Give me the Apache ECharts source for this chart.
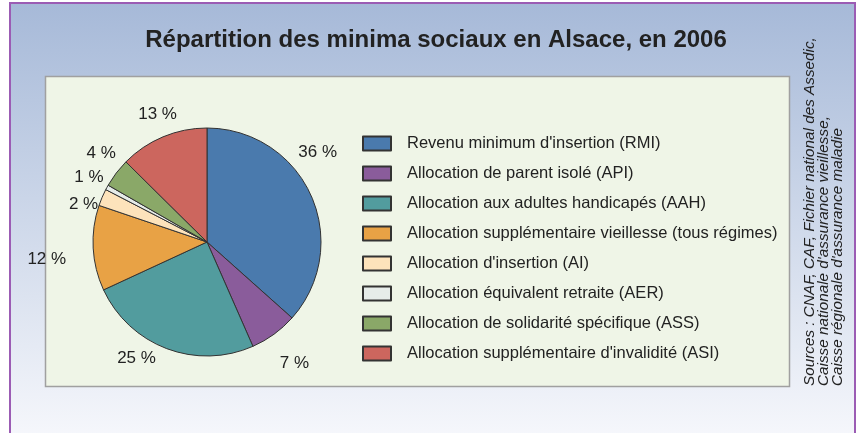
<!DOCTYPE html>
<html><head><meta charset="utf-8">
<script src="https://cdn.jsdelivr.net/npm/echarts@6/dist/echarts.min.js"></script>
<style>html,body{margin:0;padding:0;background:#fff}#c{width:857px;height:433px}</style>
</head><body><div id="c"></div>
<script>
const categories = [
  "Revenu minimum d'insertion (RMI)",
  "Allocation de parent isolé (API)",
  "Allocation aux adultes handicapés (AAH)",
  "Allocation supplémentaire vieillesse (tous régimes)",
  "Allocation d'insertion (AI)",
  "Allocation équivalent retraite (AER)",
  "Allocation de solidarité spécifique (ASS)",
  "Allocation supplémentaire d'invalidité (ASI)"
];
const shares = [36.6, 6.8, 24.7, 12.1, 2.4, 0.7, 4.1, 12.6];
const pctLabels = ["36 %", "7 %", "25 %", "12 %", "2 %", "1 %", "4 %", "13 %"];
const colors = ["#4a7aad", "#8a5c9b", "#529c9e", "#e8a245", "#fde3bb", "#e6ece9", "#8aa868", "#cc665e"];
const titleText = "Répartition des minima sociaux en Alsace, en 2006";
const sourceLines = [
  "Sources : CNAF, CAF, Fichier national des Assedic,",
  "Caisse nationale d'assurance vieillesse,",
  "Caisse régionale d'assurance maladie"
];
// label nudges (style only)
const labelNudge = [[-25, -40], [-4, 23], [-3, 2], [-19, 11], [8, -2], [6, -10], [7, -15], [22, -15]];

const chart = echarts.init(document.getElementById('c'), null, {renderer: 'canvas'});
const sans = "'Liberation Sans', Arial, sans-serif";
chart.setOption({
  animation: false,
  title: {
    text: titleText, left: 436, top: 28, textAlign: 'center', padding: 0,
    textStyle: {fontFamily: sans, fontWeight: 'bold', fontSize: 24, color: '#222'}
  },
  legend: {
    orient: 'vertical', left: 362, top: 135, padding: 0,
    itemWidth: 28, itemHeight: 14, itemGap: 13,
    icon: 'rect',
    textStyle: {fontFamily: sans, fontSize: 16.5, color: '#222', lineHeight: 17, padding: [0, 0, 0, 11]},
    data: categories
  },
  graphic: [
    {type: 'rect', z: -10, shape: {x: 10, y: 3, width: 845, height: 440},
     style: {fill: new echarts.graphic.LinearGradient(0, 0, 0, 1, [{offset: 0, color: '#a6b9d8'}, {offset: 1, color: '#f7f8fc'}]), stroke: '#9b5cb4', lineWidth: 2}},
    {type: 'rect', z: -9, shape: {x: 45.5, y: 76.5, width: 744, height: 310},
     style: {fill: '#eff5e7', stroke: '#a0a0a0', lineWidth: 1.5}},
    {type: 'text', z: 5, x: 824, y: 386, rotation: Math.PI / 2,
     style: {text: sourceLines.join('\n'), font: "italic 15.3px 'Liberation Sans', Arial, sans-serif", fill: '#222', lineHeight: 14, textAlign: 'left', textVerticalAlign: 'middle'}}
  ],
  series: [{
    type: 'pie',
    center: [207, 242], radius: 114,
    startAngle: 90, clockwise: true,
    color: colors,
    itemStyle: {borderColor: '#333', borderWidth: 1},
    label: {
      show: true, position: 'outside',
      formatter: p => pctLabels[p.dataIndex],
      fontFamily: sans, fontSize: 17, color: '#222'
    },
    labelLine: {show: false, length: 8, length2: 0},
    labelLayout: p => ({dx: labelNudge[p.dataIndex][0], dy: labelNudge[p.dataIndex][1]}),
    data: categories.map((n, i) => ({name: n, value: shares[i]}))
  }]
});
</script></body></html>
